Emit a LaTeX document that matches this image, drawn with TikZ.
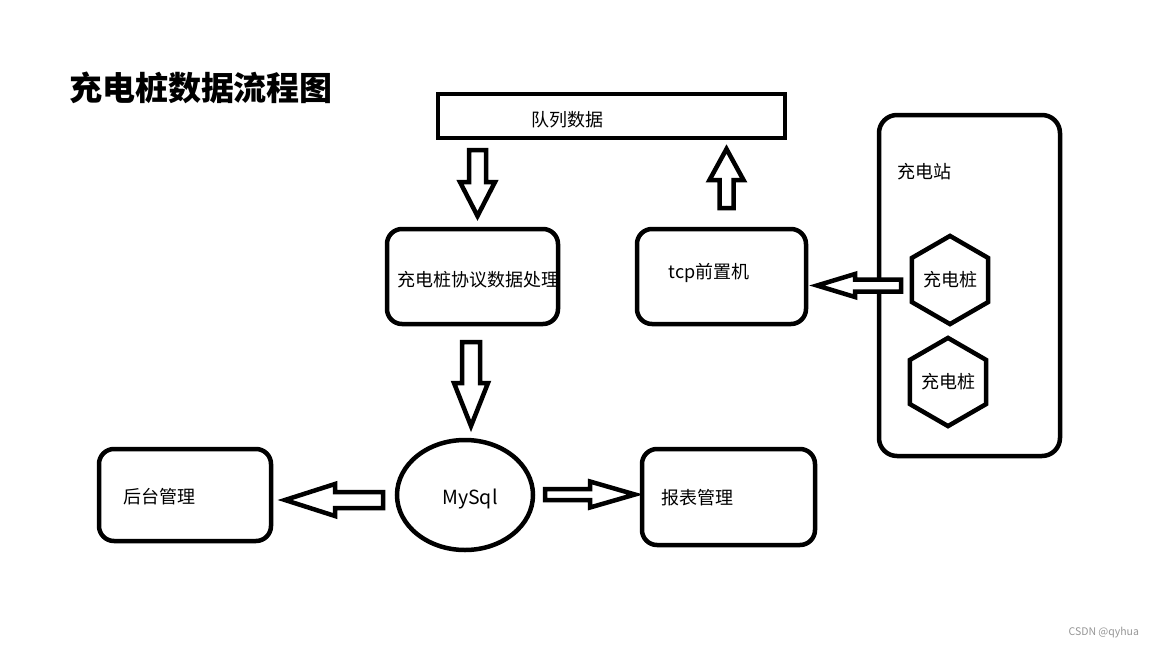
\documentclass[tikz,border=0pt]{standalone}
\usepackage{fontspec}
\setmainfont{Noto Sans CJK SC}
\usetikzlibrary{shapes.geometric,calc}
\newcommand\ftxt{\fontsize{18pt}{22pt}\selectfont}
\newcommand\blockarrow[5]{%
  \path let \p1=(#1), \p2=(#2) in \pgfextra{%
    \pgfmathsetmacro\baang{atan2(\y2-\y1,\x2-\x1)}%
    \pgfmathsetmacro\balen{veclen(\x2-\x1,\y2-\y1)}%
    \xdef\baA{\baang}\xdef\baL{\balen}};
  \draw[blockarr, shift={(#1)}, rotate=\baA]
    (0,#3) -- ({\baL-#5},#3) -- ({\baL-#5},#4) -- (\baL,0) --
    ({\baL-#5},-#4) -- ({\baL-#5},-#3) -- (0,-#3) -- cycle;
}
\tikzset{
  every node/.style={inner sep=0pt, outer sep=0pt},
  box/.style={draw, line width=4.5pt, rounded corners=15pt},
  blockarr/.style={draw, line width=4.5pt, line join=miter, fill=white},
  lbl/.style={font=\ftxt, text=black},
  hexa/.style={draw, line width=4.5pt, regular polygon, regular polygon sides=6,
    shape border rotate=30, minimum size=81pt, font=\ftxt}
}
\begin{document}
\begin{tikzpicture}[x=1pt, y=-1pt]
\useasboundingbox[fill=white] (0,0) rectangle (1152,648);

% title
\node[anchor=west, font=\fontsize{33pt}{37pt}\selectfont\bfseries] (title) at (69,88) {充电桩数据流程图};

% boxes
\node[box, sharp corners, minimum width=347pt, minimum height=44pt] (queue) at (611.5,116) {};
\node[lbl] (queuetxt) at (567,120) {队列数据};

\node[box, minimum width=171pt, minimum height=95pt] (proto) at (472.5,276.5) {};
\node[lbl] (prototxt) at (478,280) {充电桩协议数据处理};

\node[box, minimum width=169pt, minimum height=95pt] (tcp) at (721.5,276.5) {};
\node[lbl] (tcptxt) at (709,273) {tcp前置机};

\node[box, rounded corners=18pt, minimum width=181pt, minimum height=341pt] (station) at (969.5,285.5) {};
\node[lbl] (stationtxt) at (924,172) {充电站};
\node[hexa] (pile1) at (950,280) {充电桩};
\node[hexa] (pile2) at (948,382) {充电桩};

\node[draw, ellipse, line width=4.5pt, minimum width=136pt, minimum height=110pt] (mysql) at (465,495) {};
\node[lbl, font=\fontsize{19.5pt}{23pt}\selectfont] (mysqltxt) at (470,499) {MySql};

\node[box, minimum width=172pt, minimum height=92pt] (admin) at (185,495) {};
\node[lbl] (admintxt) at (159,497) {后台管理};

\node[box, minimum width=173pt, minimum height=96pt] (report) at (728.5,497) {};
\node[lbl] (reporttxt) at (697,498) {报表管理};

% connector end points
\coordinate (q2p-s) at (477.5,150);
\coordinate (q2p-t) at (477.5,216);
\coordinate (t2q-s) at (726.5,208);
\coordinate (t2q-t) at (726.5,149);
\coordinate (s2t-s) at (901,285.5);
\coordinate (s2t-t) at (817,285.5);
\coordinate (p2m-s) at (471,342);
\coordinate (p2m-t) at (471,426);
\coordinate (m2a-s) at (383,500);
\coordinate (m2a-t) at (285,500);
\coordinate (m2r-s) at (545,494.5);
\coordinate (m2r-t) at (635,494.5);

\blockarrow{q2p-s}{q2p-t}{8.5}{17.5}{34}
\blockarrow{t2q-s}{t2q-t}{7}{17}{31}
\blockarrow{s2t-s}{s2t-t}{6}{11.5}{38}
\blockarrow{p2m-s}{p2m-t}{9}{17}{43}
\blockarrow{m2a-s}{m2a-t}{8}{16}{50}
\blockarrow{m2r-s}{m2r-t}{5.5}{13}{45}

% watermark
\node[anchor=east, font=\fontsize{10.5pt}{12pt}\selectfont, text={rgb,255:red,150;green,150;blue,150}] (wm) at (1139,633) {CSDN @qyhua};
\end{tikzpicture}
\end{document}
